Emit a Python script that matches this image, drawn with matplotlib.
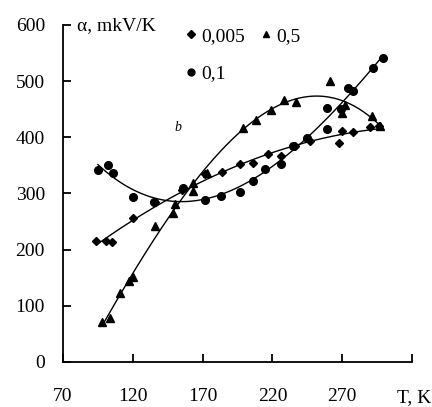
import matplotlib
matplotlib.use("Agg")
import matplotlib.pyplot as plt
import numpy as np

# series 0,005 (diamonds)
x_005 = [94, 101, 105, 120, 136, 155, 172, 184, 197, 206, 217, 226, 236, 247, 268, 270, 278, 290, 296]
y_005 = [215, 215, 213, 257, 284, 307, 335, 338, 353, 355, 370, 367, 385, 393, 390, 412, 409, 418, 420]

# series 0,1 (circles)
x_01 = [95, 102, 106, 120, 135, 156, 172, 183, 197, 206, 215, 226, 235, 245, 259, 259, 269, 274, 278, 292, 299]
y_01 = [341, 350, 336, 293, 284, 309, 288, 296, 302, 323, 344, 353, 385, 398, 415, 453, 451, 488, 483, 524, 541]

# series 0,5 (triangles)
x_05 = [98, 104, 111, 117, 120, 136, 149, 150, 163, 163, 173, 199, 208, 219, 228, 237, 261, 270, 272, 291, 297]
y_05 = [71, 78, 122, 145, 151, 243, 266, 282, 305, 318, 337, 416, 430, 449, 467, 463, 500, 444, 458, 438, 421]

x_ticks = [70, 120, 170, 220, 270, 320]
x_tick_labels = ["70", "120", "170", "220", "270", ""]
y_ticks = [0, 100, 200, 300, 400, 500, 600]

series = [
    ("0,005", x_005, y_005, "D", 4.5, 2),
    ("0,1", x_01, y_01, "o", 5.5, 3),
    ("0,5", x_05, y_05, "^", 5.5, 3),
]

plt.rcParams["font.family"] = ["Liberation Serif", "DejaVu Serif"]

fig = plt.figure(figsize=(4.32, 4.07), dpi=100)
ax = fig.add_axes([0.1458, 0.1106, 0.808, 0.828])

handles = []
for label, xs, ys, marker, ms, deg in series:
    h, = ax.plot(xs, ys, linestyle="none", marker=marker, markersize=ms,
                 color="black", label=label)
    handles.append(h)
    # polynomial trend line through the points
    coef = np.polyfit(xs, ys, deg)
    xf = np.linspace(min(xs), max(xs), 200)
    ax.plot(xf, np.polyval(coef, xf), color="black", lw=1.0)

ax.set_xlim(70, 320)
ax.set_ylim(0, 600)
ax.set_xticks(x_ticks)
ax.set_xticklabels(x_tick_labels)
ax.set_yticks(y_ticks)
for s in ["top", "right"]:
    ax.spines[s].set_visible(False)
for s in ["left", "bottom"]:
    ax.spines[s].set_linewidth(1.3)
ax.tick_params(axis="both", direction="in", length=6, width=1.3, labelsize=14)
ax.tick_params(axis="x", pad=19)
ax.tick_params(axis="y", pad=13)

fig.text(0.178, 0.938, "α, mkV/K", fontsize=14, va="center", ha="left")
fig.text(0.999, 0.024, "T, K", fontsize=14, va="center", ha="right")
fig.text(0.412, 0.686, "b", fontsize=10, style="italic", va="center", ha="center")

ax.legend(handles=handles, loc="upper left", bbox_to_anchor=(0.39, 0.975),
          bbox_transform=fig.transFigure, ncol=2, frameon=False, fontsize=14,
          handlelength=0.5, handletextpad=0.3, columnspacing=0.8,
          labelspacing=1.0, markerscale=0.9)

fig.savefig("out.png", dpi=100)
